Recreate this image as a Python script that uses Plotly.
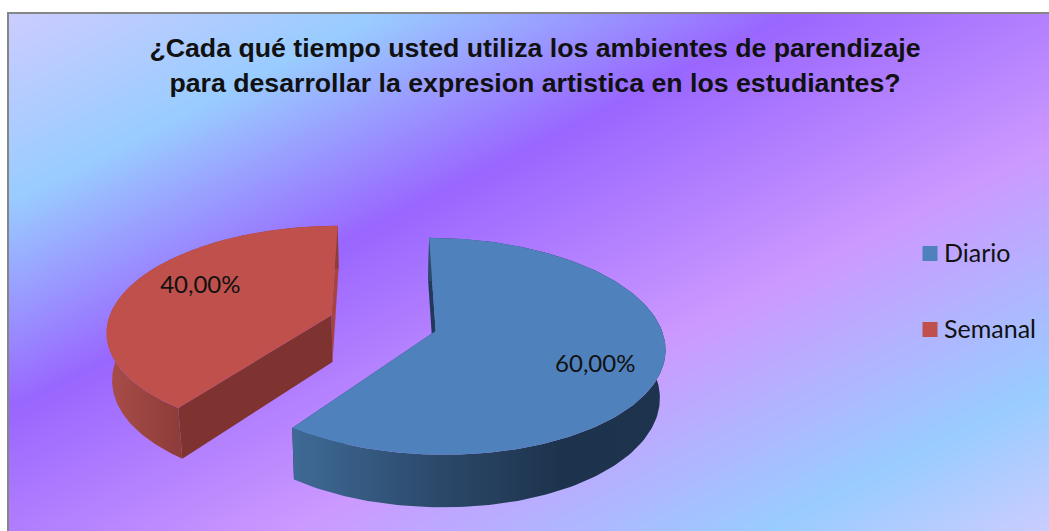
import numpy as np
import plotly.graph_objects as go

CATEGORIES = ["Diario", "Semanal"]
VALUES = [60, 40]
TITLE = "¿Cada qué tiempo usted utiliza los ambientes de parendizaje<br>para desarrollar la expresion artistica en los estudiantes?"

TOP_COLORS = ["#4F81BD", "#BF504C"]
SIDE_SCALES = [
    [[0, "#3F6A96"], [0.4, "#2B4869"], [0.72, "#1D334D"], [1, "#1E344E"]],
    [[0, "#AA4D49"], [0.32, "#8C3C39"], [1, "#8C3C39"]],
]
START_WALL = ["#1F3A5A", "#A8443F"]
END_WALL = ["#1F3A5A", "#7E3331"]
LABEL_RADIUS = [0.735, 0.688]
LABEL_TURN = [7.6, 6.8]

BG_SCALE = [
    [0, "#CCCCFF"], [0.18, "#99CCFF"], [0.38, "#9966FF"],
    [0.63, "#CC99FF"], [0.86, "#99CCFF"], [1, "#CCCCFF"],
]

# perspective of the 3d pie, in pixels of the 1049x531 page
VX, VY = 383, 323
A, B = 224, 104
TILT = 0.14
PULL = 0.2445
DEPTH = 47
SHRINK = 0.98

# legend rows, in the same pixels
LEGEND_X = 930
LEGEND_Y = [253.5, 329.5]


def project(x, y, bottom=False):
    w = 1 + TILT * y
    sx = A * x / w
    sy = -B * y / w
    if bottom:
        return VX + SHRINK * sx, VY + SHRINK * sy + DEPTH / w
    return VX + sx, VY + sy


def poly(fig, xs, ys, color=None, scale=None):
    kw = dict(fillcolor=color) if scale is None else dict(
        fillgradient=dict(type="horizontal", colorscale=scale))
    fig.add_trace(go.Scatter(x=xs, y=ys, mode="lines", fill="toself", line=dict(width=0),
                             hoverinfo="skip", showlegend=False, **kw))


fig = go.Figure()

# background gradient, heatmap cells are centred so the edges land on the frame
gx, gy = np.meshgrid(9 + (np.arange(60) + 0.5) * 1040 / 60, 14 + (np.arange(40) + 0.5) * 517 / 40)
fig.add_trace(go.Heatmap(x=gx[0], y=gy[:, 0], z=(gx - 9) * 0.45 + (gy - 14) * 0.89, zmin=0, zmax=929,
                         colorscale=BG_SCALE, zsmooth="best", showscale=False, hoverinfo="skip"))

total = sum(VALUES)
sweeps = np.cumsum([0] + VALUES) / total * 2 * np.pi
labels = []
for i in [1, 0]:
    t0, t1 = sweeps[i], sweeps[i + 1]
    mid = (t0 + t1) / 2
    cx, cy = PULL * np.sin(mid), PULL * np.cos(mid)
    t = np.linspace(t0, t1, 160)
    rx, ry = cx + np.sin(t), cy + np.cos(t)

    top_x, top_y = project(rx, ry)
    bot_x, bot_y = project(rx, ry, bottom=True)
    ax, ay = project(cx, cy)
    abx, aby = project(cx, cy, bottom=True)

    # flat walls: the one closest to the viewer goes last
    walls = [(top_x[-1], bot_x[-1], top_y[-1], bot_y[-1], START_WALL[i]),
             (top_x[0], bot_x[0], top_y[0], bot_y[0], END_WALL[i])]
    for x0, x1, y0, y1, color in walls:
        poly(fig, [x0, x1, abx, ax], [y0, y1, aby, ay], color=color)
    poly(fig, np.r_[top_x, bot_x[::-1]], np.r_[top_y, bot_y[::-1]], scale=SIDE_SCALES[i])
    poly(fig, np.r_[ax, top_x], np.r_[ay, top_y], color=TOP_COLORS[i])

    turn = mid + np.radians(LABEL_TURN[i])
    lx, ly = project(cx + LABEL_RADIUS[i] * np.sin(turn), cy + LABEL_RADIUS[i] * np.cos(turn))
    labels.append((lx, ly, f"{VALUES[i]:.2f}".replace(".", ",") + "%"))

fig.add_trace(go.Scatter(x=[l[0] for l in labels], y=[l[1] for l in labels], text=[l[2] for l in labels],
                         mode="text", textfont=dict(family="Lato", size=24, color="#111111"),
                         hoverinfo="skip", showlegend=False))

for name, color, row_y in zip(CATEGORIES, TOP_COLORS, LEGEND_Y):
    fig.add_trace(go.Scatter(x=[LEGEND_X], y=[row_y], mode="markers", name=name,
                             marker=dict(symbol="square", size=15, color=color),
                             hoverinfo="skip", showlegend=False))
    fig.add_annotation(x=LEGEND_X + 12, y=row_y - 2, text=name, xanchor="left", showarrow=False,
                       font=dict(family="Lato", size=25, color="#111111"))

fig.add_shape(type="rect", x0=8, y0=13, x1=1070, y1=550, line=dict(color="#868686", width=2))

fig.update_layout(
    width=1049, height=531,
    margin=dict(l=0, r=0, t=0, b=0),
    paper_bgcolor="white", plot_bgcolor="white",
    title=dict(text=TITLE, x=535 / 1049, xanchor="center", y=1 - 57 / 531, yanchor="top",
               font=dict(family="Liberation Sans", size=26.7, color="#111111", weight="bold")),
    xaxis=dict(range=[0, 1049], visible=False, fixedrange=True),
    yaxis=dict(range=[531, 0], visible=False, fixedrange=True),
)

fig.write_html("out.html", config=dict(displayModeBar=False),
               post_script="document.body.style.margin='0';document.body.style.overflow='hidden';")
